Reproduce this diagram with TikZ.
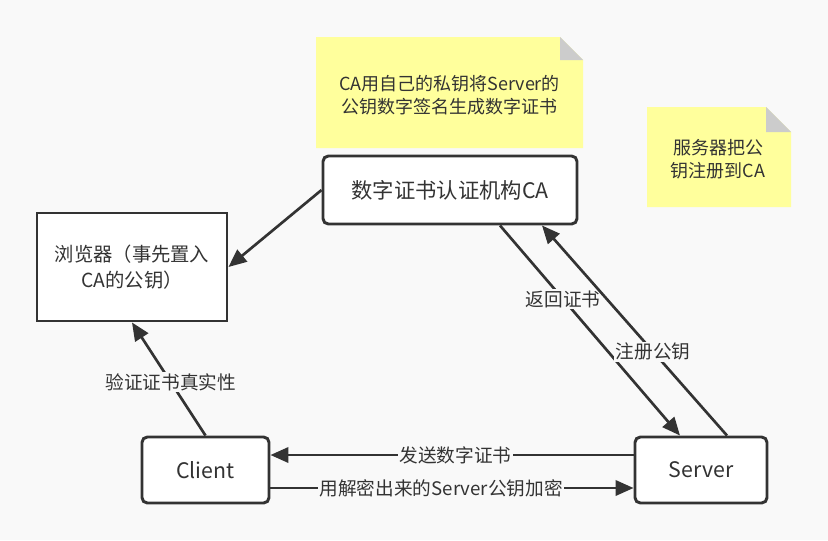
\documentclass[tikz,border=0pt]{standalone}
\usepackage{fontspec}
\newfontfamily\cjk{Noto Sans CJK SC}
\usetikzlibrary{arrows.meta}
\definecolor{bg}{HTML}{F9F9F9}
\definecolor{ink}{HTML}{333333}
\definecolor{notefill}{HTML}{FFFF9C}
\definecolor{foldfill}{HTML}{CCCCCC}
\begin{document}
\begin{tikzpicture}[x=0.75pt,y=-0.75pt,
  box/.style={draw=ink,line width=2.2pt,fill=white,text=ink,font=\cjk\fontsize{14.5}{19}\selectfont,align=center,inner sep=0pt},
  rbox/.style={box,rounded corners=4pt,font=\cjk\fontsize{16}{19}\selectfont},
  conn/.style={draw=ink,line width=2pt,-{Triangle[length=13.5pt,width=11.5pt]}},
  lbl/.style={fill=bg,text=ink,font=\cjk\fontsize{14}{16}\selectfont,inner sep=1pt},
  notetxt/.style={text=ink,font=\cjk\fontsize{13.5}{17}\selectfont,align=center,inner sep=0pt}
]
\fill[bg] (0,0) rectangle (828,540);
\useasboundingbox (0,0) rectangle (828,540);

% notes
\fill[notefill] (316,37) -- (560,37) -- (583,60) -- (583,148) -- (316,148) -- cycle;
\fill[foldfill] (560,37) -- (583,60) -- (560,60) -- cycle;
\node[notetxt] (note1) at (449.5,95) {CA用自己的私钥将Server的\\公钥数字签名生成数字证书};

\fill[notefill] (647,107) -- (766,107) -- (791,132) -- (791,207) -- (647,207) -- cycle;
\fill[foldfill] (766,107) -- (791,132) -- (766,132) -- cycle;
\node[notetxt] (note2) at (718,159) {服务器把公\\钥注册到CA};

% boxes
\node[box,minimum width=142.5pt,minimum height=81pt] (browser) at (132,267) {浏览器（事先置入\\CA的公钥）};
\node[rbox,minimum width=190.5pt,minimum height=51pt] (ca) at (450,190) {数字证书认证机构CA};
\node[rbox,minimum width=95.25pt,minimum height=49.5pt] (client) at (205.5,470) {Client};
\node[rbox,minimum width=99pt,minimum height=49.5pt] (server) at (701,470) {Server};

% connectors
\draw[conn] (ca.west) -- (browser.east);
\draw[conn] (client.north) -- node[lbl,pos=0.47] (l1) {验证证书真实性} (browser.south);
\draw[conn] ([yshift=11.25pt]server.west) -- node[lbl,pos=0.49] (l2) {发送数字证书} ([yshift=11.25pt]client.east);
\draw[conn] ([yshift=-13.5pt]client.east) -- node[lbl,pos=0.47] (l3) {用解密出来的Server公钥加密} ([yshift=-13.5pt]server.west);
\draw[conn] ([xshift=37.5pt]ca.south) -- node[lbl,pos=0.35] (l4) {返回证书} ([xshift=-15.75pt]server.north);
\draw[conn] ([xshift=19.5pt]server.north) -- node[lbl,pos=0.4] (l5) {注册公钥} ([xshift=69pt]ca.south);
\end{tikzpicture}
\end{document}
